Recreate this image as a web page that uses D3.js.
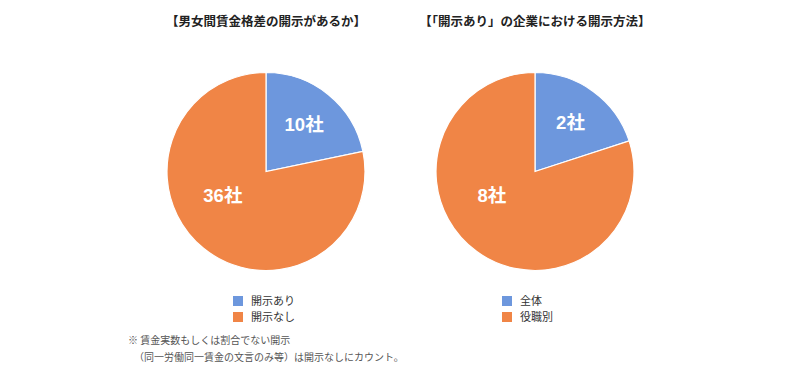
<!DOCTYPE html>
<html><head><meta charset="utf-8">
<script src="https://cdn.jsdelivr.net/npm/d3@7"></script>
<style>
html,body{margin:0;padding:0;background:#fff;}
svg{display:block;}
</style></head>
<body>
<svg id="c" width="800" height="378"></svg>
<script>
const titles = ["【男女間賃金格差の開示があるか】", "【「開示あり」の企業における開示方法】"];
const categories1 = ["開示あり", "開示なし"];
const values1 = [10, 36];
const categories2 = ["全体", "役職別"];
const values2 = [2, 8];
const unit = "社";
const colors = ["#6D97DD", "#F08546"];
const footnotes = ["※ 賃金実数もしくは割合でない開示", "（同一労働同一賃金の文言のみ等）は開示なしにカウント。"];

const svg = d3.select("#c");
const cjk = "'Noto Sans CJK JP', 'Noto Sans', sans-serif";
const num = "'Liberation Sans', Arial, 'Noto Sans CJK JP', sans-serif";

const pies = [
  {cx: 266, cy: 171.5, cats: categories1, vals: values1, title: titles[0]},
  {cx: 535, cy: 171.5, cats: categories2, vals: values2, title: titles[1]}
];
const R = 99;
const pie = d3.pie().sort(null).value(d => d);
const arc = d3.arc().innerRadius(0).outerRadius(R);

pies.forEach(p => {
  const g = svg.append("g").attr("transform", `translate(${p.cx},${p.cy})`);
  const arcs = pie(p.vals);
  g.selectAll("path").data(arcs).join("path")
    .attr("d", arc)
    .attr("fill", (d, i) => colors[i])
    .attr("stroke", "#fff").attr("stroke-width", 1.2);
  g.selectAll("text.lbl").data(arcs).join("text")
    .attr("class", "lbl")
    .attr("transform", d => {
      const span = d.endAngle - d.startAngle;
      let a, r;
      if (span < Math.PI) { a = (d.startAngle + d.endAngle) / 2; r = R * 0.61; }
      else { a = 4.2; r = R * 0.5; }
      return `translate(${Math.sin(a) * r},${-Math.cos(a) * r})`;
    })
    .attr("text-anchor", "middle")
    .attr("dy", "0.36em")
    .attr("fill", "#fff")
    .attr("font-family", num)
    .attr("font-weight", "bold")
    .attr("font-size", 18.5)
    .text(d => d.data + unit);

  svg.append("text")
    .attr("x", p.cx).attr("y", 26)
    .attr("text-anchor", "middle")
    .attr("font-family", cjk)
    .attr("font-weight", "bold")
    .attr("font-size", 12.5)
    .attr("fill", "#222")
    .text(p.title);

  const lg = svg.append("g").attr("transform", `translate(${p.cx - 33},296)`);
  const items = lg.selectAll("g").data(p.cats).join("g")
    .attr("transform", (d, i) => `translate(0,${i * 16})`);
  items.append("rect").attr("width", 10).attr("height", 10)
    .attr("fill", (d, i) => colors[i]);
  items.append("text").attr("x", 18).attr("y", 5).attr("dy", "0.35em")
    .attr("font-family", cjk).attr("font-size", 11).attr("fill", "#333")
    .text(d => d);
});

svg.selectAll("text.fn").data(footnotes).join("text")
  .attr("class", "fn")
  .attr("x", (d, i) => i === 0 ? 128 : 134)
  .attr("y", (d, i) => 344 + i * 17)
  .attr("font-family", cjk).attr("font-size", 10).attr("fill", "#555")
  .text(d => d);
</script>
</body></html>
